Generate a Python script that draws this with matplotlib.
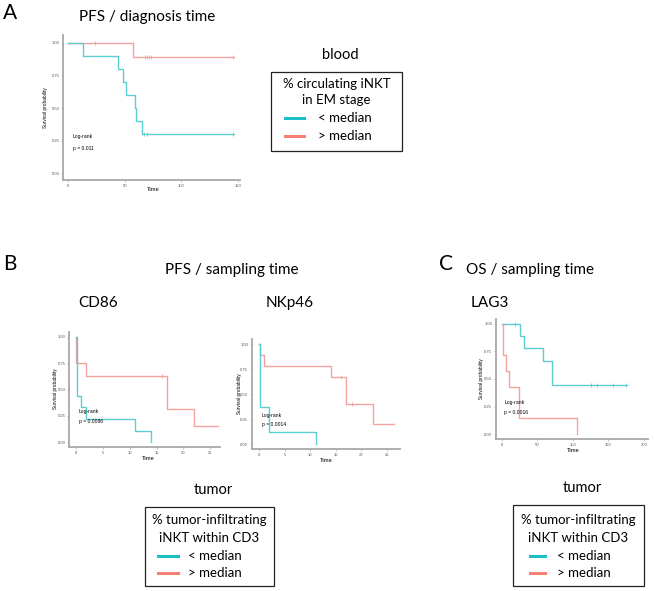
import matplotlib
matplotlib.use("Agg")
import matplotlib.pyplot as plt
from matplotlib.patches import Rectangle
from matplotlib.lines import Line2D

# ---- data (Kaplan-Meier steps) ----
# A: PFS / diagnosis time
a_low_t = [0, 13, 44, 48.5, 51.5, 58.8, 60, 65.6, 146]
a_low_s = [1, 0.9, 0.8, 0.7, 0.6, 0.5, 0.4, 0.3, 0.3]
a_low_cens = [67, 70, 146]
a_high_t = [0, 57.3, 146]
a_high_s = [1, 0.889, 0.889]
a_high_cens = [24, 68, 69.5, 71, 73, 146]

# B: CD86
cd86_low_t = [0, 0.1, 0.93, 1.86, 11, 14]
cd86_low_s = [1, 0.444, 0.333, 0.222, 0.111, 0]
cd86_high_t = [0, 0.05, 1.9, 17, 22, 26.5]
cd86_high_s = [1, 0.75, 0.625, 0.3125, 0.156, 0.156]
cd86_high_cens = [16]

# B: NKp46
nkp_low_t = [0, 0.05, 1.96, 11.1]
nkp_low_s = [1, 0.375, 0.125, 0]
nkp_high_t = [0, 0.05, 0.92, 14.1, 17.1, 22.3, 26.5]
nkp_high_s = [1, 0.889, 0.778, 0.667, 0.4, 0.2, 0.2]
nkp_high_cens = [16, 18.2]

# C: LAG3
lag3_low_t = [0, 26, 31.6, 57.5, 70, 175]
lag3_low_s = [1, 0.889, 0.778, 0.667, 0.444, 0.444]
lag3_low_cens = [18.8, 126, 133.5, 157, 175]
lag3_high_t = [0, 2, 5.7, 10.3, 24.5, 106]
lag3_high_s = [1, 0.714, 0.571, 0.429, 0.143, 0]

y_ticks = [0, 0.25, 0.5, 0.75, 1.0]
y_labels = ["0.00", "0.25", "0.50", "0.75", "1.00"]
a_xticks = [0, 50, 100, 150]
b_xticks = [0, 5, 10, 15, 20, 25]
c_xticks = [0, 50, 100, 150, 200]

TEAL = "#5ccdd0"
RED = "#f3a39d"
TEAL_LEG = "#19bfc4"
RED_LEG = "#f57f74"
AXC = "#a8a8a8"
TITLE_FONT = "Lato"
SMALL_FONT = "Liberation Sans"

W, H = 654, 591
fig = plt.figure(figsize=(W / 100, H / 100), dpi=100)


def px_axes(l, t, r, b):
    return fig.add_axes([l / W, 1 - b / H, (r - l) / W, (b - t) / H])


def ftext(x, y, s, **kw):
    kw.setdefault("ha", "center")
    kw.setdefault("va", "center")
    fig.text(x / W, 1 - y / H, s, **kw)


def km_axes(box, xlim, ylim, xticks):
    ax = px_axes(*box)
    ax.set_xlim(*xlim)
    ax.set_ylim(*ylim)
    ax.set_xticks(xticks)
    ax.set_yticks(y_ticks)
    ax.set_yticklabels(y_labels)
    for s in ["top", "right"]:
        ax.spines[s].set_visible(False)
    for s in ["left", "bottom"]:
        ax.spines[s].set_color(AXC)
        ax.spines[s].set_linewidth(1.3)
    ax.tick_params(labelsize=3.0, length=1.5, width=0.5, color=AXC,
                   labelcolor="#555555", pad=1.2)
    for lab in ax.get_xticklabels() + ax.get_yticklabels():
        lab.set_fontfamily(SMALL_FONT)
    ax.patch.set_alpha(0)
    return ax


def km_curve(ax, t, s, color, cens=None):
    ax.step(t, s, where="post", color=color, lw=1.0)
    if cens:
        vals = []
        for c in cens:
            v = s[0]
            for ti, si in zip(t, s):
                if ti <= c:
                    v = si
            vals.append(v)
        ax.plot(cens, vals, "+", color=color, ms=2.5, mew=0.6)


def km_text(ax, x, y, p):
    ax.text(x, y, "Log-rank", fontsize=3.6, family=SMALL_FONT, va="center")
    ax.text(x, y - 0.09, p, fontsize=3.6, family=SMALL_FONT, va="center")


def ylab(x, y):
    ftext(x, y, "Survival probability", fontsize=3.4, rotation=90, family=SMALL_FONT)


# ---------------- Panel A ----------------
ftext(10, 13, "A", fontsize=15, family=TITLE_FONT)
ftext(147, 17, "PFS / diagnosis time", fontsize=11, family=TITLE_FONT)
axA = km_axes((63, 35, 240, 180), (-4.7, 152), (-0.051, 1.059), a_xticks)
km_curve(axA, a_high_t, a_high_s, RED, a_high_cens)
km_curve(axA, a_low_t, a_low_s, TEAL, a_low_cens)
km_text(axA, 4, 0.28, "p = 0.011")
ylab(46, 108)
ftext(153, 190, "Time", fontsize=4.2, family=SMALL_FONT)

# ---------------- Panel B ----------------
ftext(10, 264, "B", fontsize=15, family=TITLE_FONT)
ftext(232, 270, "PFS / sampling time", fontsize=11, family=TITLE_FONT)
ftext(98, 303, "CD86", fontsize=11, family=TITLE_FONT)
ftext(290, 303, "NKp46", fontsize=11, family=TITLE_FONT)

axB1 = km_axes((69, 332, 220, 447), (-1.3, 26.8), (-0.045, 1.047), b_xticks)
km_curve(axB1, cd86_high_t, cd86_high_s, RED, cd86_high_cens)
km_curve(axB1, cd86_low_t, cd86_low_s, TEAL)
km_text(axB1, 0.5, 0.29, "p = 0.0086")
ylab(55, 389)
ftext(148, 458, "Time", fontsize=4.2, family=SMALL_FONT)

axB2 = km_axes((252, 339, 400, 449), (-1.43, 27.6), (-0.047, 1.05), b_xticks)
km_curve(axB2, nkp_high_t, nkp_high_s, RED, nkp_high_cens)
km_curve(axB2, nkp_low_t, nkp_low_s, TEAL)
km_text(axB2, 0.5, 0.29, "p = 0.0014")
ylab(239, 394)
ftext(326, 460, "Time", fontsize=4.2, family=SMALL_FONT)

# ---------------- Panel C ----------------
ftext(446, 264, "C", fontsize=15, family=TITLE_FONT)
ftext(530, 270, "OS / sampling time", fontsize=11, family=TITLE_FONT)
ftext(490, 303, "LAG3", fontsize=11, family=TITLE_FONT)
axC = km_axes((496, 319, 648, 439), (-8.5, 206), (-0.045, 1.045), c_xticks)
km_curve(axC, lag3_low_t, lag3_low_s, TEAL, lag3_low_cens)
km_curve(axC, lag3_high_t, lag3_high_s, RED)
km_text(axC, 3, 0.29, "p = 0.0016")
ylab(481, 379)
ftext(573, 450, "Time", fontsize=4.2, family=SMALL_FONT)


# ---------------- legends ----------------
def legend_box(l, t, r, b, head, title_lines, title_y, rows_y, line_x, text_x):
    fig.patches.append(Rectangle((l / W, 1 - b / H), (r - l) / W, (b - t) / H,
                                 transform=fig.transFigure, fill=False,
                                 ec="#222222", lw=0.9))
    ftext((l + r) / 2 + 4, t - 17, head, fontsize=10.5, family=TITLE_FONT)
    for yy, s in zip(title_y, title_lines):
        ftext((l + r) / 2, yy, s, fontsize=9.5, family=TITLE_FONT)
    for yy, c, s in zip(rows_y, [TEAL_LEG, RED_LEG], ["< median", "> median"]):
        fig.lines.append(Line2D([line_x[0] / W, line_x[1] / W], [1 - yy / H] * 2,
                                transform=fig.transFigure, color=c, lw=2.2))
        ftext(text_x, yy, s, fontsize=9.5, family=TITLE_FONT, ha="left")


legend_box(271, 72, 402, 151, "blood", ["% circulating iNKT", "in EM stage"],
           [84, 100], [118, 136], (285, 304), (318))
legend_box(145, 507, 274, 586, "tumor", ["% tumor-infiltrating", "iNKT within CD3"],
           [520, 538], [556, 573], (158, 178), (188))
legend_box(513, 505, 644, 586, "tumor", ["% tumor-infiltrating", "iNKT within CD3"],
           [520, 538], [556, 573], (530, 545), (557))

fig.savefig("out.png", dpi=100)
